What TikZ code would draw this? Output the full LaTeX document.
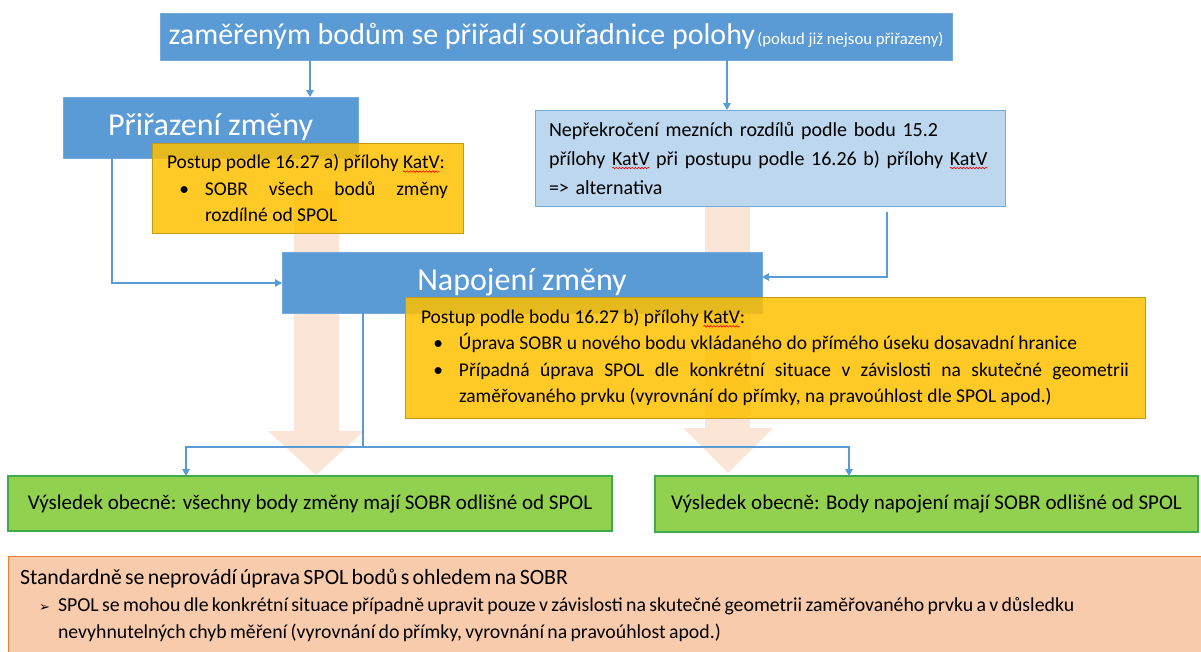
\documentclass[tikz,border=0pt]{standalone}
\usepackage{fontspec}
\setmainfont{Carlito}
\newfontfamily\dejavu{DejaVu Sans}
\usetikzlibrary{arrows.meta,decorations.pathmorphing}
\definecolor{blueA}{HTML}{5B9BD5}
\definecolor{blueL}{HTML}{BDD7EE}
\definecolor{goldA}{HTML}{FFC000}
\definecolor{goldB}{HTML}{C49A14}
\definecolor{peachA}{HTML}{FBE5D6}
\definecolor{greenA}{HTML}{92D050}
\definecolor{greenB}{HTML}{3EAA4C}
\definecolor{orangeL}{HTML}{F8CBAD}
\definecolor{orangeB}{HTML}{ED7D31}
\newsavebox\spbox
\newcommand\spellw[1]{\sbox\spbox{#1}\rlap{\tikz[overlay,baseline=0pt]\draw[red,line width=0.6pt,decorate,decoration={snake,amplitude=0.8pt,segment length=3.2pt}] (0pt,-3pt) -- (\the\wd\spbox,-3pt);}\usebox\spbox}
\begin{document}
\begin{tikzpicture}[x=1pt,y=-1pt,
  conn/.style={draw=blueA,line width=1.3pt},
  arr/.style={conn,-{Triangle[length=7pt,width=7.5pt]}},
  boxbase/.style={anchor=north west,inner sep=0pt,outer sep=0pt,line width=0.8pt},
  titlebox/.style={boxbase,fill=blueA,draw=blueA!85!white,text=white,align=center},
  yellowbox/.style={boxbase,fill=goldA,fill opacity=0.85,text opacity=1,draw=goldB,align=justify,font=\fontsize{19.5}{26.5}\selectfont},
  altbox/.style={boxbase,fill=blueL,draw=blueA!85!white,align=left,font=\fontsize{20}{29}\selectfont},
  greenbox/.style={boxbase,fill=greenA,draw=greenB,line width=1.2pt,align=center,font=\fontsize{21}{25}\selectfont},
  stdbox/.style={boxbase,fill=orangeL,draw=orangeB,align=left},
  bigarrow/.style={fill=peachA,draw=none}
]
\clip (0,0) rectangle (1201,651);
\fill[white] (0,0) rectangle (1201,651);

% big faded arrows (behind)
\fill[bigarrow] (294,190) -- (339,190) -- (339,431) -- (364,431) -- (316,475) -- (268,431) -- (294,431) -- cycle;
\fill[bigarrow] (705,200) -- (750,200) -- (750,428) -- (773,428) -- (728,473) -- (683,428) -- (705,428) -- cycle;

% top box
\node[titlebox,minimum width=792,minimum height=47] (top) at (160,13)
  {{\fontsize{30}{34}\selectfont zaměřeným bodům se přiřadí souřadnice polohy} {\fontsize{16.7}{20}\selectfont (pokud již nejsou přiřazeny)}};

% Přiřazení změny
\node[titlebox,minimum width=295,minimum height=61,font=\fontsize{32}{36}\selectfont] (prir) at (63,97) {Přiřazení změny};

% light blue alternative box
\node[altbox,minimum width=470,minimum height=96,inner xsep=14pt,text width=442] (alt) at (535,110)
  {\mbox{Nepřekročení mezních rozdílů podle bodu 15.2}\\ \mbox{přílohy \spellw{KatV} při postupu podle 16.26 b) přílohy \spellw{KatV}}\\ => alternativa};

% Napojení změny
\node[titlebox,minimum width=480,minimum height=61,font=\fontsize{32}{36}\selectfont] (nap) at (282,252) {Napojení změny};

% yellow box 1
\node[yellowbox,minimum width=311,minimum height=90,inner xsep=15pt,text width=281] (y1) at (152,143)
  {\noindent\mbox{Postup podle 16.27 a) přílohy \spellw{KatV}:}\par
   \hangindent=38pt\hangafter=0\noindent\llap{\textbullet\hspace{16pt}}SOBR všech bodů změny\linebreak rozdílné od SPOL\par};

% yellow box 2
\node[yellowbox,minimum width=740,minimum height=121,inner xsep=16pt,text width=708] (y2) at (405,297)
  {\noindent Postup podle bodu 16.27 b) přílohy \spellw{KatV}:\par
   \hangindent=38pt\hangafter=0\noindent\llap{\textbullet\hspace{16pt}}Úprava SOBR u nového bodu vkládaného do přímého úseku dosavadní hranice\par
   \hangindent=38pt\hangafter=0\noindent\llap{\textbullet\hspace{16pt}}Případná úprava SPOL dle konkrétní situace v závislosti na skutečné geometrii\linebreak zaměřovaného prvku (vyrovnání do přímky, na pravoúhlost dle SPOL apod.)\par};

% green boxes
\node[greenbox,minimum width=604,minimum height=55] (g1) at (8,476)
  {Výsledek obecně: všechny body změny mají SOBR odlišné od SPOL};
\node[greenbox,minimum width=543,minimum height=56] (g2) at (655,476)
  {Výsledek obecně: Body napojení mají SOBR odlišné od SPOL};

% bottom standard box
\node[stdbox,minimum width=1207,minimum height=98,inner xsep=12pt,text width=1183] (std) at (8,556)
  {{\fontsize{21.8}{27}\selectfont Standardně se neprovádí úprava SPOL bodů s ohledem na SOBR\par}
   {\fontsize{19.8}{27}\selectfont\hangindent=38pt\hangafter=0\noindent\llap{{\dejavu\fontsize{13}{13}\selectfont ➢}\hspace{8pt}}SPOL se mohou dle konkrétní situace případně upravit pouze v závislosti na skutečné geometrii zaměřovaného prvku a v důsledku\newline nevyhnutelných chyb měření (vyrovnání do přímky, vyrovnání na pravoúhlost apod.)\par}};

% connectors
\draw[arr] (top.south -| 310,0) -- (prir.north -| 310,0);
\draw[arr] (top.south -| 727,0) -- (alt.north -| 727,0);
\draw[arr] (prir.south -| 112,0) |- (nap.west |- 0,283);
\draw[arr] ([yshift=-6pt]alt.south -| 887,0) |- (nap.east |- 0,277);
\coordinate (split) at (363,447);
\draw[conn] (nap.south -| split) -- (split);
\draw[arr] (split) -| (g1.north -| 186,0);
\draw[arr] (split) -| (g2.north -| 849,0);
\end{tikzpicture}
\end{document}
